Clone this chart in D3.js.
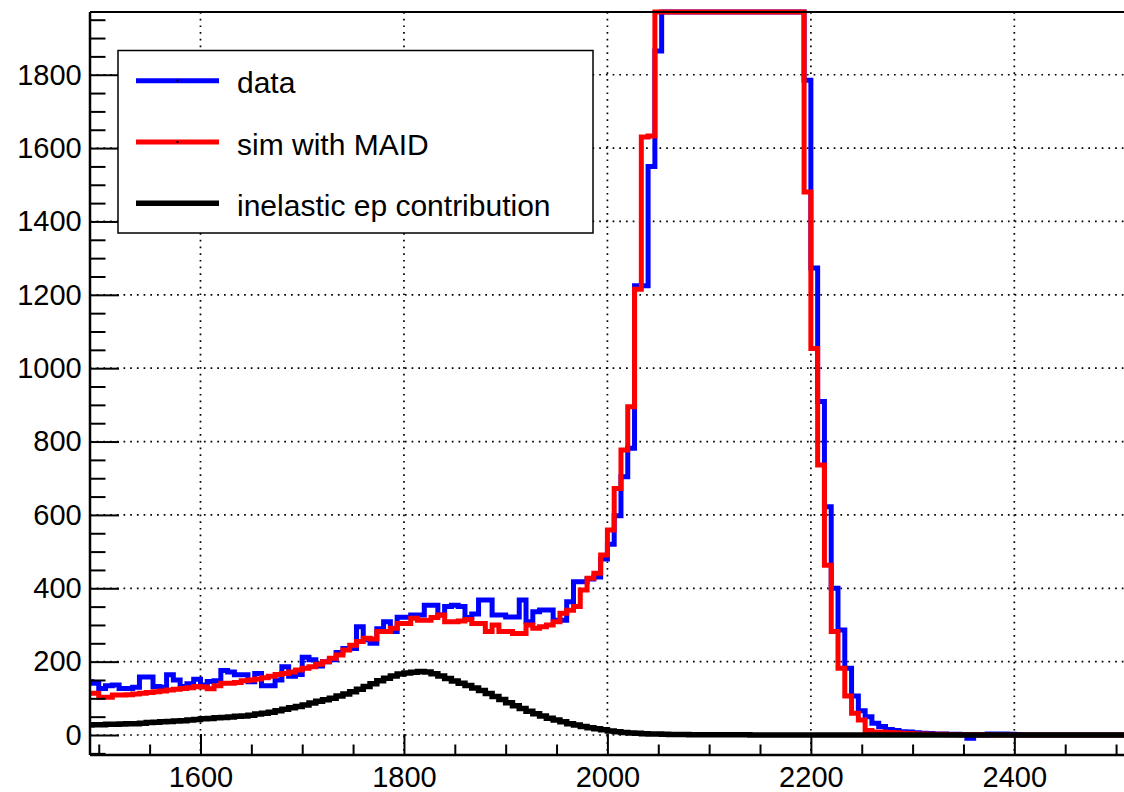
<!DOCTYPE html>
<html>
<head>
<meta charset="utf-8">
<script src="https://cdn.jsdelivr.net/npm/d3@7"></script>
<style>
  html, body { margin: 0; padding: 0; background: #fff; }
  svg { display: block; }
  text { font-family: "Liberation Sans", Arial, Helvetica, sans-serif; fill: #000; }
</style>
</head>
<body>
<svg id="chart" width="1124" height="792"></svg>
<script>
// Histogram binning: 150 bins over 1500–2500, plus two bins below 1500
const binWidth = 1000 / 150;
const firstLowEdge = 1500 - 2 * binWidth;

// Measured counts per bin
const dataCounts = [
  145, 141, 127, 134, 136, 127, 127, 130, 158, 158,
  132, 130, 164, 150, 132, 140, 152, 136, 146, 148,
  176, 172, 164, 164, 145, 168, 134, 134, 150, 186,
  160, 165, 212, 205, 188, 200, 205, 225, 236, 236,
  295, 260, 250, 290, 309, 282, 321, 321, 327, 327,
  354, 354, 327, 350, 354, 350, 320, 330, 368, 368,
  327, 327, 322, 322, 368, 309, 336, 341, 341, 313,
  313, 363, 418, 418, 425, 431, 480, 520, 598, 704,
  782, 1225, 1225, 1550, 1865, 2350, 2900, 3500, 4100, 4600,
  5000, 5300, 5500, 5600, 5650, 5600, 5500, 5350, 5150, 4900,
  4600, 4200, 3800, 3300, 2700, 2200, 1785, 1273, 909, 622,
  400, 286, 182, 106, 66, 50, 32, 23, 15, 12,
  9, 8, 6, 5, 4, 3, 3, 2, 2, 1,
  -9, 1, 0, 3, 3, 3, 2, 1, 0, 0,
  0, 0, 0, 0, 0, 0, 0, 0, 0, 0,
  0, 0, 0, 0
];

// Simulation with MAID
const simCounts = [
  114, 114, 103, 103, 109, 109, 110, 112, 114, 116,
  118, 120, 123, 125, 127, 129, 132, 131, 126, 134,
  141, 141, 143, 148, 150, 153, 156, 160, 165, 168,
  172, 177, 182, 186, 193, 200, 209, 218, 232, 245,
  255, 264, 262, 282, 282, 291, 304, 304, 318, 313,
  313, 320, 327, 309, 309, 311, 315, 304, 304, 282,
  300, 282, 282, 277, 277, 300, 291, 295, 300, 309,
  332, 340, 350, 395, 427, 441, 491, 559, 672, 777,
  895, 1215, 1630, 1633, 2300, 2900, 3500, 4100, 4650, 5050,
  5350, 5550, 5650, 5700, 5650, 5550, 5400, 5200, 4950, 4650,
  4300, 3900, 3400, 2900, 2400, 2050, 1480, 1054, 736, 463,
  282, 182, 106, 59, 41, 12, 8, 8, 7, 6,
  5, 4, 3, 3, 2, 2, 2, 1, 1, 1,
  1, 1, 0, 0, 0, 0, 0, 0, 0, 0,
  0, 0, 0, 0, 0, 0, 0, 0, 0, 0,
  0, 0, 0, 0
];

// Inelastic ep contribution
const inelasticCounts = [
  27, 28, 28, 29, 29, 30, 31, 31, 32, 34,
  35, 36, 37, 38, 39, 41, 42, 44, 45, 47,
  48, 49, 51, 52, 54, 57, 59, 62, 66, 70,
  74, 78, 82, 87, 92, 96, 100, 106, 112, 118,
  125, 132, 140, 148, 155, 161, 166, 169, 171, 173,
  172, 167, 161, 154, 147, 141, 135, 128, 121, 113,
  105, 97, 88, 80, 72, 65, 58, 52, 46, 41,
  36, 31, 27, 23, 20, 17, 14, 11, 9, 7,
  5.5, 4.5, 3.6, 3, 2.5, 2, 1.7, 1.4, 1.2, 1,
  0.9, 0.8, 0.7, 0.6, 0.5, 0.5, 0.4, 0.4, 0.3, 0.3,
  0.2, 0.2, 0.1, 0.1, 0, 0, 0, 0, 0, 0,
  0, 0, 0, 0, 0, 0, 0, 0, 0, 0,
  0, 0, 0, 0, 0, 0, 0, 0, 0, 0,
  0, 0, 0, 0, 0, 0, 0, 0, 0, 0,
  0, 0, 0, 0, 0, 0, 0, 0, 0, 0,
  0, 0, 0, 0
];

const xMajorTicks = [1600, 1800, 2000, 2200, 2400];
const xTickLabels = ["1600", "1800", "2000", "2200", "2400"];
const yMajorTicks = [0, 200, 400, 600, 800, 1000, 1200, 1400, 1600, 1800];
const yTickLabels = ["0", "200", "400", "600", "800", "1000", "1200", "1400", "1600", "1800"];
const legendLabels = ["data", "sim with MAID", "inelastic ep contribution"];

// ---- layout ----
const frame = { left: 90, right: 1124, top: 12, bottom: 755 };
const xDomain = [1491.4, 2507.8];
const yDomain = [-54.5, 1971];

const x = d3.scaleLinear().domain(xDomain).range([frame.left, frame.right]);
const y = d3.scaleLinear().domain(yDomain).range([frame.bottom, frame.top]);

const svg = d3.select("#chart");

svg.append("defs").append("clipPath").attr("id", "plotClip")
  .append("rect")
  .attr("x", frame.left).attr("y", 0)
  .attr("width", frame.right - frame.left)
  .attr("height", frame.bottom);

// ---- dotted grid ----
const grid = svg.append("g")
  .attr("stroke", "#000").attr("stroke-width", 1.7)
  .attr("stroke-dasharray", "1.7 5").attr("fill", "none");
xMajorTicks.forEach(v => {
  grid.append("line")
    .attr("x1", x(v)).attr("x2", x(v))
    .attr("y1", frame.top).attr("y2", frame.bottom);
});
yMajorTicks.forEach(v => {
  grid.append("line")
    .attr("x1", frame.left).attr("x2", frame.right)
    .attr("y1", y(v)).attr("y2", y(v));
});

// ---- histograms ----
function histPath(counts) {
  const [lo, hi] = y.domain();
  let d = "";
  counts.forEach((c, i) => {
    const x0 = x(firstLowEdge + i * binWidth);
    const x1 = x(firstLowEdge + (i + 1) * binWidth);
    const yy = y(Math.max(lo, Math.min(hi, c)));
    d += (i === 0 ? `M${x0},${yy}` : `V${yy}`) + `H${x1}`;
  });
  return d;
}

const plot = svg.append("g").attr("clip-path", "url(#plotClip)");
const series = [
  { counts: dataCounts, color: "#0000ff", width: 5 },
  { counts: simCounts, color: "#ff0000", width: 5 },
  { counts: inelasticCounts, color: "#000000", width: 5.5 }
];
series.forEach(s => {
  plot.append("path")
    .attr("d", histPath(s.counts))
    .attr("fill", "none")
    .attr("stroke", s.color)
    .attr("stroke-width", s.width)
    .attr("stroke-linejoin", "miter")
    .attr("stroke-linecap", "butt");
});

// ---- axes ----
const fontSize = 29;
const xMinor = d3.range(1500, 2551, 50).filter(v => v % 200 !== 0 && v >= xDomain[0] && v <= xDomain[1]);
const yMinor = d3.range(-50, 1951, 50).filter(v => v % 200 !== 0);

const xAxisMinor = d3.axisBottom(x).tickValues(xMinor).tickSize(-10.5).tickFormat("");
const xAxisMajor = d3.axisBottom(x).tickValues(xMajorTicks).tickSize(-21).tickPadding(11.4)
  .tickFormat((d, i) => xTickLabels[i]);
const yAxisMinor = d3.axisLeft(y).tickValues(yMinor).tickSize(-15.5).tickFormat("");
const yAxisMajor = d3.axisLeft(y).tickValues(yMajorTicks).tickSize(-29).tickPadding(8.3)
  .tickFormat((d, i) => yTickLabels[i]);

function styleAxis(g) {
  g.select(".domain").remove();
  g.selectAll("line").attr("stroke", "#000").attr("stroke-width", 2);
  g.selectAll("text").attr("font-size", fontSize)
    .attr("font-family", "'Liberation Sans', Arial, Helvetica, sans-serif").attr("fill", "#000");
}

svg.append("g").attr("transform", `translate(0,${frame.bottom})`).call(xAxisMinor).call(styleAxis);
svg.append("g").attr("transform", `translate(0,${frame.bottom})`).call(xAxisMajor).call(styleAxis);
svg.append("g").attr("transform", `translate(${frame.left},0)`).call(yAxisMinor).call(styleAxis);
svg.append("g").attr("transform", `translate(${frame.left},0)`).call(yAxisMajor).call(styleAxis);

// ---- frame ----
const frameG = svg.append("g").attr("stroke", "#000").attr("fill", "none");
frameG.append("line").attr("x1", frame.left).attr("x2", frame.right)
  .attr("y1", frame.top).attr("y2", frame.top).attr("stroke-width", 2);
frameG.append("line").attr("x1", frame.left).attr("x2", frame.right)
  .attr("y1", frame.bottom).attr("y2", frame.bottom).attr("stroke-width", 2.5);
frameG.append("line").attr("x1", frame.left).attr("x2", frame.left)
  .attr("y1", frame.top).attr("y2", frame.bottom).attr("stroke-width", 2.5);

// ---- legend ----
const legend = { x: 118, y: 50.5, w: 475, h: 182.5 };
const lg = svg.append("g");
lg.append("rect")
  .attr("x", legend.x).attr("y", legend.y)
  .attr("width", legend.w).attr("height", legend.h)
  .attr("fill", "#fff").attr("stroke", "#000").attr("stroke-width", 1.5);

const entryY = [80.7, 142, 203.2];
legendLabels.forEach((label, i) => {
  const s = series[i];
  const yy = entryY[i];
  lg.append("line")
    .attr("x1", 136).attr("x2", 219)
    .attr("y1", yy).attr("y2", yy)
    .attr("stroke", s.color).attr("stroke-width", s.width);
  lg.append("rect")
    .attr("x", 176.5).attr("y", yy - 1).attr("width", 2).attr("height", 2)
    .attr("fill", "#000");
  lg.append("text")
    .attr("x", 237).attr("y", yy + 12.5)
    .attr("font-size", 30)
    .text(label);
});
</script>
</body>
</html>
